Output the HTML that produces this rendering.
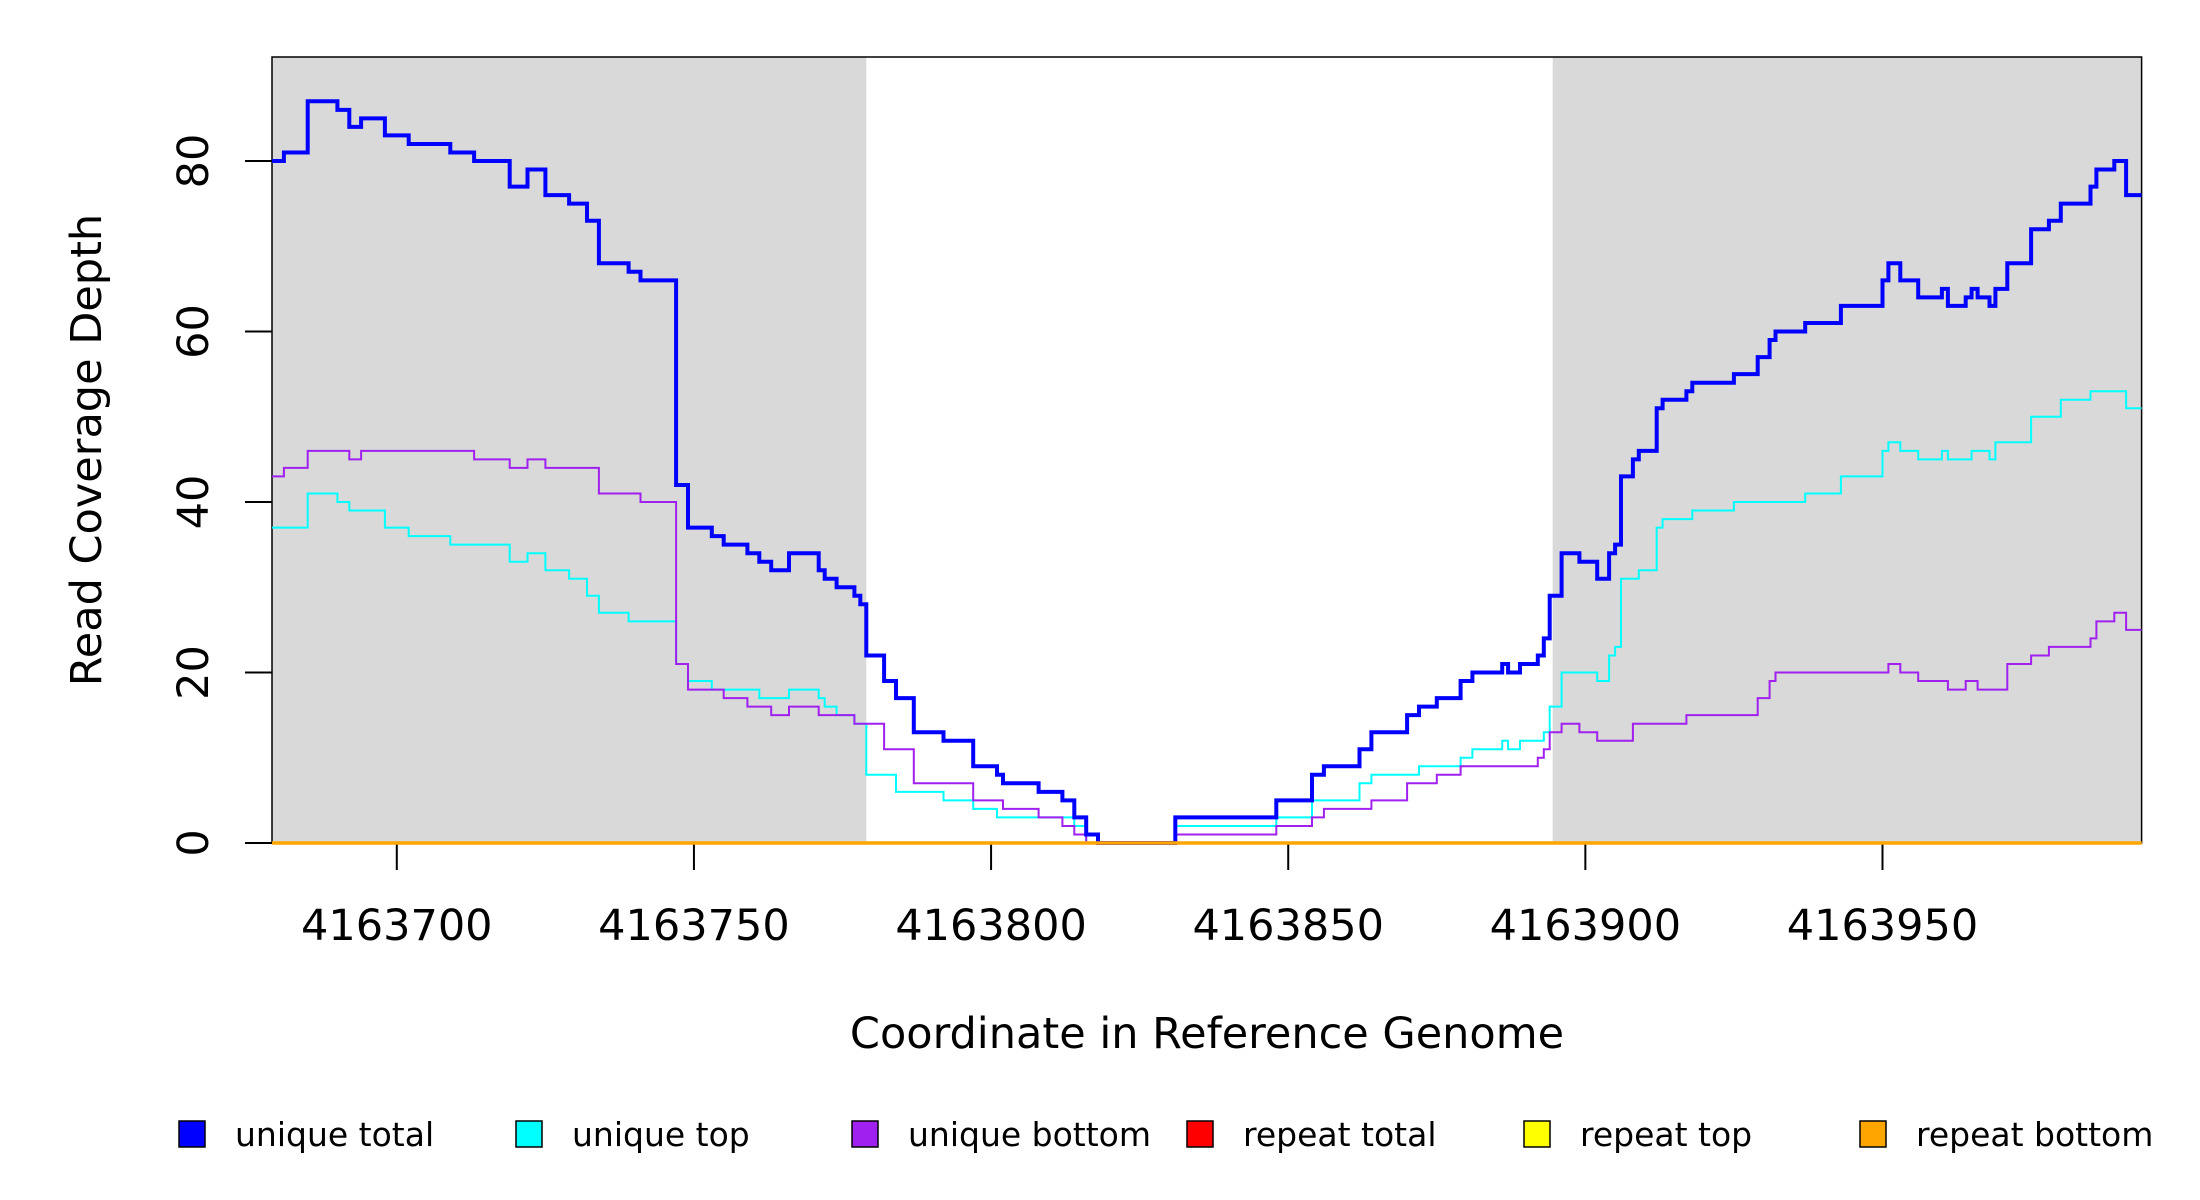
<!DOCTYPE html>
<html><head><meta charset="utf-8"><style>
html,body{margin:0;padding:0;background:#fff}
svg{display:block}
text{font-family:"DejaVu Sans","Liberation Sans",sans-serif;fill:#000}
</style></head><body>
<svg id="chart" width="2200" height="1200" viewBox="0 0 2200 1200" xmlns="http://www.w3.org/2000/svg">
<g id="bg"></g>
<g id="axes"></g>
<g id="series"></g>
<text x="1207" y="1048" font-size="43" text-anchor="middle">Coordinate in Reference Genome</text>
<text transform="translate(101,450) rotate(-90)" font-size="43" text-anchor="middle">Read Coverage Depth</text>
<g id="legend"></g>
</svg>
<script>
const base = 4163700;
const xTicks = [4163700, 4163750, 4163800, 4163850, 4163900, 4163950];
const yTicks = [0, 20, 40, 60, 80];
const shadedRegions = [[4163679, 4163779], [4163894.5, 4163994]];
const totalStarts = [-21,-19,-15,-10,-8,-6,-2,2,9,13,19,22,25,29,32,34,39,41,47,49,53,55,59,61,63,66,71,72,74,77,78,79,82,84,87,92,97,101,102,108,112,114,116,118,131,148,154,156,162,164,170,172,175,179,181,186,187,189,192,193,194,196,199,202,204,205,206,208,209,212,213,217,218,225,229,231,232,237,243,250,251,253,256,260,261,264,265,266,268,269,271,275,278,280,285,286,289,291];
const totalValues = [80,81,87,86,84,85,83,82,81,80,77,79,76,75,73,68,67,66,42,37,36,35,34,33,32,34,32,31,30,29,28,22,19,17,13,12,9,8,7,6,5,3,1,0,3,5,8,9,11,13,15,16,17,19,20,21,20,21,22,24,29,34,33,31,34,35,43,45,46,51,52,53,54,55,57,59,60,61,63,66,68,66,64,65,63,64,65,64,63,65,68,72,73,75,77,79,80,76];
const topStarts = [-21,-15,-10,-8,-2,2,9,19,22,25,29,32,34,39,47,49,53,61,66,71,72,74,77,79,84,92,97,101,114,116,131,148,154,162,164,172,179,181,186,187,189,193,194,196,202,204,205,206,209,212,213,218,225,237,243,250,251,253,256,260,261,265,268,269,275,280,285,291];
const topValues = [37,41,40,39,37,36,35,33,34,32,31,29,27,26,21,19,18,17,18,17,16,15,14,8,6,5,4,3,2,0,2,3,5,7,8,9,10,11,12,11,12,13,16,20,19,22,23,31,32,37,38,39,40,41,43,46,47,46,45,46,45,46,45,47,50,52,53,51];
const bottomStarts = [-21,-19,-15,-8,-6,13,19,22,25,34,41,47,49,55,59,63,66,71,77,82,87,97,102,108,112,114,116,131,148,154,156,164,170,175,179,192,193,194,196,199,202,208,217,229,231,232,251,253,256,261,264,266,271,275,278,285,286,289,291];
const bottomValues = [43,44,46,45,46,45,44,45,44,41,40,21,18,17,16,15,16,15,14,11,7,5,4,3,2,1,0,1,2,3,4,5,7,8,9,10,11,13,14,13,12,14,15,17,19,20,21,20,19,18,19,18,21,22,23,24,26,27,25];
const repeatStarts = [-21];
const repeatTotalValues = [0];
const repeatTopValues = [0];
const repeatBottomValues = [0];
const legendLabels = ["unique total","unique top","unique bottom","repeat total","repeat top","repeat bottom"];

const xMin = 4163679, xMax = 4163993.6, yMax = 92.2;
const L = 272, R = 2141.6, T = 57, B = 843;
const NS = "http://www.w3.org/2000/svg";
function sx(v){ return L + (v - xMin) / (xMax - xMin) * (R - L); }
function sy(v){ return B - v / yMax * (B - T); }
function mk(tag, attrs, parent){ const e = document.createElementNS(NS, tag); for (const k in attrs) e.setAttribute(k, attrs[k]); parent.appendChild(e); return e; }

const bg = document.getElementById('bg');
const r0 = mk('rect', {x:L, y:T, width:R-L, height:B-T, fill:'#fff'}, bg);


shadedRegions.forEach(function(s){
  const a = Math.max(s[0], xMin), b = Math.min(s[1], xMax);
  const r = mk('rect', {x:sx(a), y:T, width:sx(b)-sx(a), height:B-T, fill:'#d9d9d9'}, bg);
  
  
});

function stepPath(starts, vals){
  let d = '';
  for (let i = 0; i < starts.length; i++){
    const x0 = sx(Math.max(base + starts[i], xMin));
    const x1 = sx(i + 1 < starts.length ? base + starts[i+1] : xMax);
    const y = sy(vals[i]);
    d += (i === 0 ? 'M' : 'L') + x0.toFixed(1) + ',' + y.toFixed(1) + 'L' + x1.toFixed(1) + ',' + y.toFixed(1);
  }
  return d;
}

const ax = document.getElementById('axes');
const frame = mk('rect', {x:L, y:T, width:R-L, height:B-T, fill:'none', stroke:'#000', 'stroke-width':1.5}, ax);


xTicks.forEach(function(t){
  const x = sx(t);
  const l = mk('line', {x1:x, x2:x, y1:B, y2:870, stroke:'#000', 'stroke-width':2}, ax);
  
  
  const tx = mk('text', {x:x, y:940, 'font-size':43, 'text-anchor':'middle'}, ax);
  tx.textContent = String(t);
  
  
});
yTicks.forEach(function(t){
  const y = sy(t);
  const l = mk('line', {x1:245, x2:L, y1:y, y2:y, stroke:'#000', 'stroke-width':2}, ax);
  
  
  const tx = mk('text', {transform:'translate(208,' + y + ') rotate(-90)', 'font-size':43, 'text-anchor':'middle'}, ax);
  tx.textContent = String(t);
  
  
});

const sg = document.getElementById('series');
const seriesDefs = [
  ['unique-top-line', topStarts, topValues, '#00ffff', 2],
  ['unique-bottom-line', bottomStarts, bottomValues, '#a020f0', 2],
  ['unique-total-line', totalStarts, totalValues, '#0000ff', 4],
  ['repeat-total-line', repeatStarts, repeatTotalValues, '#ff0000', 3],
  ['repeat-top-line', repeatStarts, repeatTopValues, '#ffff00', 3],
  ['repeat-bottom-line', repeatStarts, repeatBottomValues, '#ffa500', 3.5]
];
seriesDefs.forEach(function(s){
  const p = mk('path', {d:stepPath(s[1], s[2]), fill:'none', stroke:s[3], 'stroke-width':s[4], 'stroke-linejoin':'miter'}, sg);
  
  
});

const lg = document.getElementById('legend');
const legendColors = ['#0000ff','#00ffff','#a020f0','#ff0000','#ffff00','#ffa500'];
const legendX = [192, 529, 865, 1200, 1537, 1873];
legendLabels.forEach(function(lab, i){
  const sq = mk('rect', {x:legendX[i]-13, y:1121, width:26, height:26, fill:legendColors[i], stroke:'#000', 'stroke-width':1.5}, lg);
  
  
  const tx = mk('text', {x:legendX[i]+43, y:1146, 'font-size':33}, lg);
  tx.textContent = lab;
  
  
});
</script>
</body></html>
